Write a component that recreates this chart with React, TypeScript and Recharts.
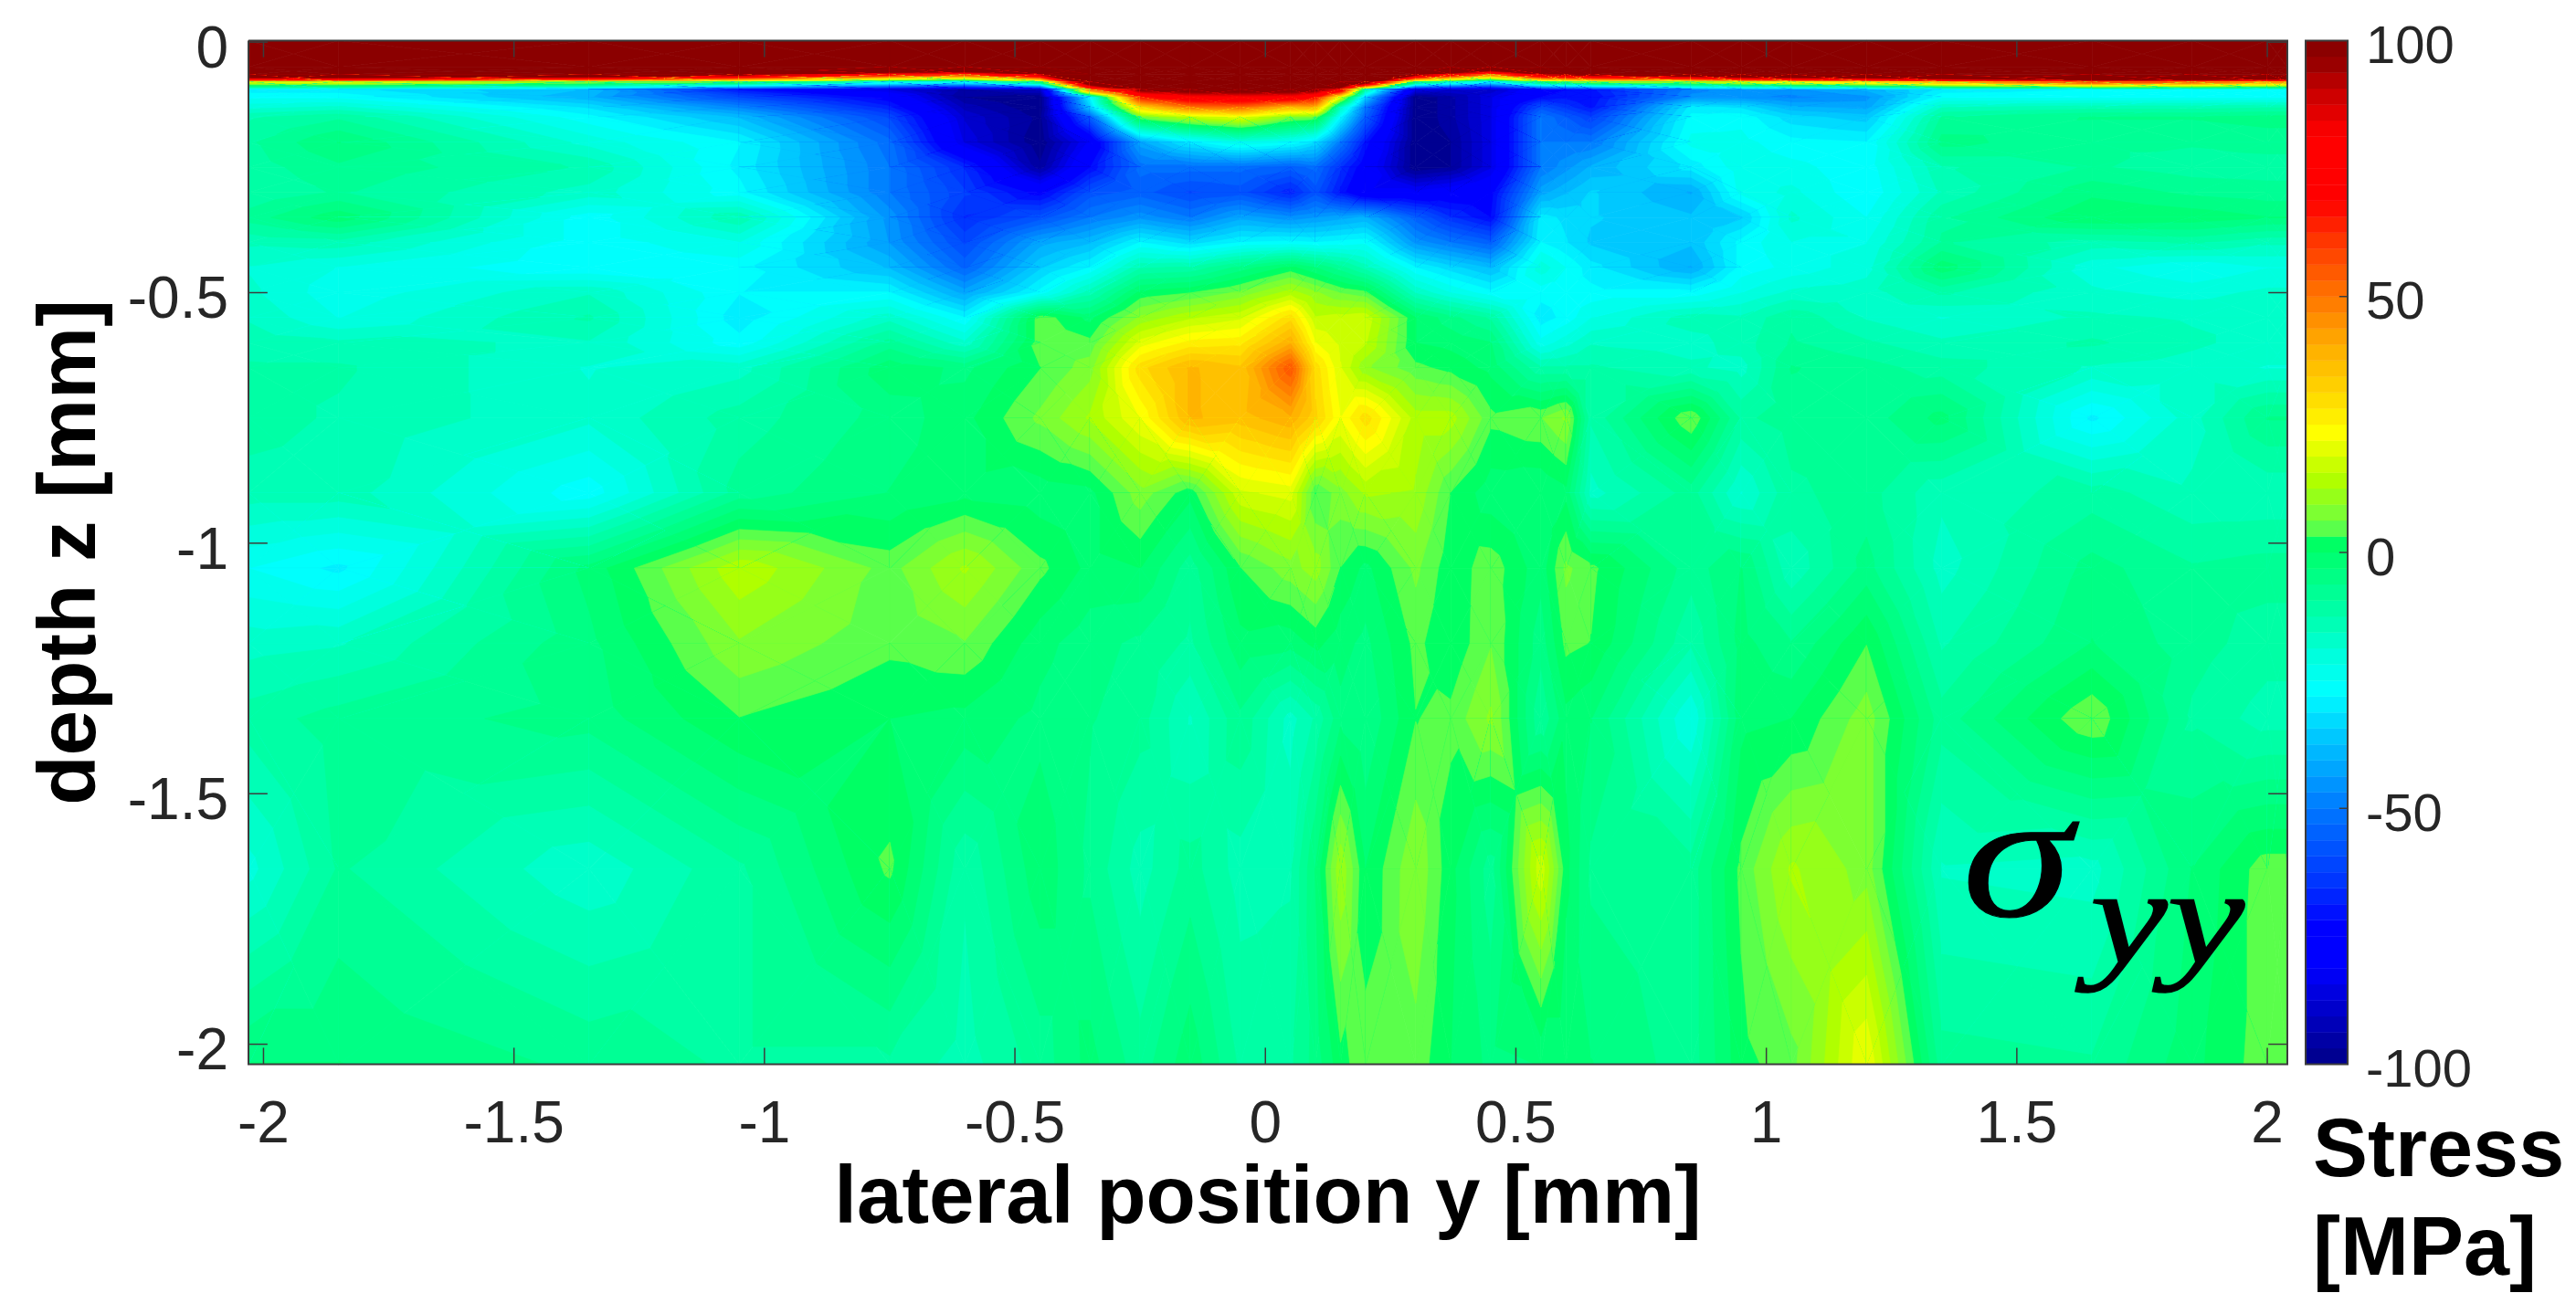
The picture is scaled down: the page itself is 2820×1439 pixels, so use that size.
import { ScatterChart, Scatter, XAxis, YAxis, ReferenceLine, ReferenceArea } from "recharts"

// lateral position y [mm], one value per column
const LATERAL = [-2.03, -1.85, -1.35, -1.05, -0.75, -0.6, -0.45, -0.35, -0.25, -0.15, -0.05, 0.05, 0.1, 0.15, 0.2, 0.3, 0.37, 0.45, 0.55, 0.6, 0.65, 0.85, 0.95, 1.05, 1.2, 1.35, 1.65, 1.85, 2.0, 2.04]
// depth z [mm], one value per row
const DEPTH = [0.003, -0.05, -0.065, -0.08, -0.095, -0.11, -0.13, -0.15, -0.2, -0.25, -0.3, -0.35, -0.4, -0.45, -0.5, -0.55, -0.6, -0.65, -0.75, -0.9, -1.05, -1.2, -1.35, -1.65, -2.04]

// stress [MPa]
const STRESS = [
  [300, 300, 300, 300, 300, 300, 300, 300, 300, 300, 300, 300, 300, 300, 300, 300, 300, 300, 300, 300, 300, 300, 300, 300, 300, 300, 300, 300, 300, 300],
  [300, 300, 250, 200, 150, 150, 160, 300, 300, 300, 300, 300, 300, 300, 300, 200, 165, 130, 160, 160, 165, 250, 250, 250, 250, 250, 300, 300, 300, 300],
  [140, 140, 130, 100, 70, 60, 90, 200, 250, 260, 260, 260, 260, 220, 200, 100, 75, 50, 90, 95, 100, 115, 130, 135, 140, 150, 170, 170, 160, 160],
  [20, 22, 10, 5, -20, -25, 0, 120, 180, 190, 190, 190, 180, 130, 110, 0, -14, -28, 0, 5, 10, 12, 20, 25, 30, 40, 60, 55, 45, 45],
  [-30, -30, -38, -70, -85, -95, -90, 50, 100, 105, 105, 105, 102, 80, -10, -85, -88, -90, -75, -72, -70, -48, -45, -45, -40, -30, -28, -28, -28, -28],
  [-26, -26, -40, -60, -75, -97, -100, -28, 65, 78, 80, 78, 68, 20, -35, -100, -95, -85, -72, -70, -72, -46, -46, -48, -45, -26, -26, -26, -26, -26],
  [-20, -18, -32, -48, -68, -92, -100, -35, 32, 50, 52, 38, 40, -15, -50, -100, -95, -85, -58, -64, -70, -30, -32, -40, -42, -16, -14, -14, -13, -13],
  [-13, -10, -27, -38, -60, -88, -98, -55, 6, 15, 20, 8, 6, -28, -55, -100, -95, -85, -50, -56, -62, -27, -26, -33, -36, -9, -6, -6, -5, -5],
  [-10, -3, -20, -28, -52, -85, -100, -80, -42, -30, -22, -26, -32, -50, -70, -100, -97, -85, -50, -50, -50, -24, -24, -27, -28, -5, -9, -9, -8, -8],
  [-11, -7, -13, -29, -50, -66, -96, -72, -52, -52, -52, -55, -52, -65, -76, -100, -97, -85, -50, -45, -40, -30, -23, -24, -27, -13, -9, -11, -11, -11],
  [-12, -9, -17, -27, -50, -62, -74, -58, -55, -60, -58, -68, -58, -70, -80, -80, -77, -74, -42, -38, -34, -41, -24, -21, -28, -15, -4, -7, -8, -8],
  [-8, -1, -27, -13, -45, -66, -58, -50, -45, -50, -42, -46, -44, -42, -40, -55, -65, -72, -30, -32, -34, -37, -35, -18, -25, -10, 0, -1, -3, -3],
  [-15, -14, -27, -22, -44, -60, -42, -38, -28, -33, -28, -27, -28, -27, -26, -45, -50, -55, -28, -31, -35, -37, -27, -22, -22, -9, -14, -12, -15, -15],
  [-19, -22, -28, -27, -38, -54, -35, -28, -13, -12, -5, 1, -3, -8, -14, -28, -33, -38, -20, -25, -30, -41, -27, -24, -20, -1, -21, -25, -22, -22],
  [-18, -24, -16, -28, -28, -42, -27, -14, 1, 3, 7, 14, 10, 6, 4, -16, -22, -27, -27, -27, -27, -27, -22, -18, -17, -12, -18, -20, -18, -18],
  [-16, -22, -12, -30, -17, -28, 5, -1, 10, 15, 18, 30, 16, 17, 18, 0, -5, -10, -30, -27, -22, -14, -15, -10, -16, -19, -15, -16, -16, -16],
  [-14, -15, -16, -27, -8, -18, 5, 4, 20, 26, 27, 40, 22, 18, 16, 0, -1, -3, -24, -20, -16, -17, -14, -9, -12, -15, -12, -15, -17, -17],
  [-12, -12, -19, -17, -1, -4, 3, 8, 30, 38, 35, 56, 30, 19, 10, 4, 2, -1, -12, -12, -12, -15, -17, -6, -8, -11, -16, -17, -19, -19],
  [-11, -13, -18, -11, -5, -1, 7, 13, 22, 38, 36, 40, 32, 22, 30, 14, 14, 4, 6, 10, -12, 6, -10, -8, -8, -2, -29, -17, -6, -6],
  [-14, -14, -27, -8, -3, -1, -2, -1, 8, 1, 18, 20, 3, 8, 13, 12, 3, -2, -3, -1, -17, -8, -19, -10, -8, -15, -11, -15, -15, -15],
  [-25, -29, -2, 15, 5, 13, 4, -1, 0, -8, 3, 8, 11, 3, -1, 7, 1, 5, -2, 7, 4, -8, -3, -15, -5, -17, -5, -9, -8, -8],
  [-17, -16, -4, 9, 4, 6, -2, -5, -7, -10, -1, -2, 1, -2, -4, 4, 0.5, 6, -5, 4, 3, -12, -2, -6, 3, -13, -3, -8, -11, -11],
  [-11, -8, -5, 3, 0, -1, -4, -6, -8, -16, -7, -17, -12, -4, -6, 3, 4, 10, -9, -1, -3, -22, -1, 0, 8, -8, 6, -10, -14, -14],
  [-20, -9, -18, -10, 3.8, -12, -1, -7, -14, -8, -14, -13, -3, 12, 0, 9, 1, -8, 18, 1, -7, -8, 4, 13, 8, -16, -17, -3, 5, 5],
  [-3, -3, -7, -10, -10, -14, -8, -2, -8, -1, -10, -10, -5, 2, 5, 5, 0, -4, -3, -3, -3, -8, 2, 5, 22, -8, -9, -1, 5, 5],
]

const LATERAL_TICKS = [-2, -1.5, -1, -0.5, 0, 0.5, 1, 1.5, 2]
const DEPTH_TICKS = [0, -0.5, -1, -1.5, -2]
const STRESS_TICKS = [100, 50, 0, -50, -100]

// lower edge of each contour band
const LEVELS = [
  -100, -96.875, -93.75, -90.625, -87.5, -84.375, -81.25, -78.125, -75, -71.875, -68.75, -65.625, -62.5, -59.375, -56.25, -53.125,
  -50, -46.875, -43.75, -40.625, -37.5, -34.375, -31.25, -28.125, -25, -21.875, -18.75, -15.625, -12.5, -9.375, -6.25, -3.125,
  0, 3.125, 6.25, 9.375, 12.5, 15.625, 18.75, 21.875, 25, 28.125, 31.25, 34.375, 37.5, 40.625, 43.75, 46.875,
  50, 53.125, 56.25, 59.375, 62.5, 65.625, 68.75, 71.875, 75, 78.125, 81.25, 84.375, 87.5, 90.625, 93.75, 96.875,
]
const LEVEL_STEP = 3.125

// colormap as seen on the colorbar: stress, r, g, b
const COLOR_STOPS = [
  [-100, 0, 0, 135], [-81, 0, 0, 255], [-73, 0, 0, 255], [-65, 0, 50, 255], [-52, 0, 110, 255], [-45, 0, 150, 255],
  [-36, 0, 200, 255], [-27, 0, 255, 255], [-20, 0, 255, 220], [-13, 0, 255, 175], [-3, 0, 255, 125], [1.56, 0, 255, 100],
  [4.69, 90, 255, 75], [7.8, 125, 255, 50], [14, 175, 255, 0], [23.4, 255, 255, 0], [30, 255, 220, 0], [41, 255, 170, 0],
  [48, 255, 128, 0], [60, 255, 60, 0], [68.8, 255, 0, 0], [81.5, 255, 0, 0], [90, 200, 0, 0], [97, 139, 0, 0], [100, 139, 0, 0],
]

const FONT = "'Liberation Sans', Arial, sans-serif"
const TICK_STYLE = { fontSize: 64, fill: "#262626", fontFamily: FONT }
const TITLE_STYLE = { fontSize: 89, fontWeight: 700, fill: "#000", fontFamily: FONT }
const FRAME = "#3c3c3c"
const X_MIN = -2.03
const X_MAX = 2.04
const Z_MIN = -2.04
const Z_MAX = 0.003

function levelColor(level: number) {
  const mid = level + LEVEL_STEP / 2
  for (let i = 1; i < COLOR_STOPS.length; i++) {
    const a = COLOR_STOPS[i - 1]
    const b = COLOR_STOPS[i]
    if (mid <= b[0]) {
      const t = (mid - a[0]) / (b[0] - a[0])
      const ch = (k: number) => Math.round(a[k] + (b[k] - a[k]) * t)
      return `rgb(${ch(1)},${ch(2)},${ch(3)})`
    }
  }
  return "rgb(139,0,0)"
}

type Corner = { x: number; y: number; v: number }

const nodes = DEPTH.flatMap((depth, row) => LATERAL.map((lateral, col) => ({ lateral, depth, row, col })))

// pixel position of every grid node, filled as Recharts hands them to the shape
const pixels: Record<string, [number, number]> = {}

function clipAbove(tri: Corner[], level: number) {
  const out: Corner[] = []
  tri.forEach((a, i) => {
    const b = tri[(i + 1) % tri.length]
    if (a.v >= level) out.push(a)
    if (a.v >= level !== b.v >= level) {
      const t = (level - a.v) / (b.v - a.v)
      out.push({ x: a.x + (b.x - a.x) * t, y: a.y + (b.y - a.y) * t, v: level })
    }
  })
  return out
}

function pathOf(poly: Corner[]) {
  return "M" + poly.map((p) => `${p.x.toFixed(1)} ${p.y.toFixed(1)}`).join("L") + "Z"
}

// one filled contour cell, drawn from this node and the three nodes before it
function ContourCell(props: any) {
  const { cx, cy, payload } = props
  const { row, col } = payload
  pixels[`${row}-${col}`] = [cx, cy]
  if (row === 0 || col === 0) return <g />
  const corner = (r: number, c: number): Corner => {
    const [x, y] = pixels[`${r}-${c}`]
    return { x, y, v: STRESS[r][c] }
  }
  const a = corner(row - 1, col - 1)
  const b = corner(row - 1, col)
  const c = corner(row, col)
  const d = corner(row, col - 1)
  const mid = { x: (a.x + c.x) / 2, y: (a.y + c.y) / 2, v: (a.v + b.v + c.v + d.v) / 4 }
  const paths: { d: string; fill: string }[] = []
  ;[[a, b], [b, c], [c, d], [d, a]].forEach(([p, q]) => {
    const tri = [p, q, mid]
    const lo = Math.min(p.v, q.v, mid.v)
    const hi = Math.max(p.v, q.v, mid.v)
    let base = LEVELS[0]
    LEVELS.forEach((l) => {
      if (l <= lo) base = l
    })
    paths.push({ d: pathOf(tri), fill: levelColor(base) })
    LEVELS.forEach((l) => {
      if (l > lo && l <= hi) paths.push({ d: pathOf(clipAbove(tri, l)), fill: levelColor(l) })
    })
  })
  return (
    <g>
      {paths.map((p, i) => (
        <path key={i} d={p.d} fill={p.fill} stroke={p.fill} strokeWidth={0.7} />
      ))}
    </g>
  )
}

const noMarker = () => <g />

// ticks and box go in as two-point scatter lines so they paint after the contours
function stroke(key: string, points: { lateral: number; depth: number }[], width = 1.5) {
  return <Scatter key={key} data={points} line={{ stroke: FRAME, strokeWidth: width }} shape={noMarker} isAnimationActive={false} />
}

function ContourPlot() {
  return (
    <ScatterChart width={2820} height={1439} margin={{ top: 44.5, right: 316, bottom: 213.5, left: 172 }}>
      <XAxis
        type="number"
        dataKey="lateral"
        domain={[X_MIN, X_MAX]}
        ticks={LATERAL_TICKS}
        interval={0}
        height={60}
        axisLine={false}
        tickLine={false}
        tickMargin={34}
        tick={TICK_STYLE}
        label={{ value: "lateral position y [mm]", position: "bottom", offset: 50, style: TITLE_STYLE }}
      />
      <YAxis
        type="number"
        dataKey="depth"
        domain={[Z_MIN, Z_MAX]}
        ticks={DEPTH_TICKS}
        interval={0}
        width={100}
        axisLine={false}
        tickLine={false}
        tickMargin={16}
        tick={{ ...TICK_STYLE, dy: 5 }}
        label={{ value: "depth z [mm]", angle: -90, position: "left", offset: 100, style: { ...TITLE_STYLE, textAnchor: "middle" } }}
      />
      <Scatter data={nodes} shape={ContourCell} isAnimationActive={false} />
      {LATERAL_TICKS.map((t) => stroke(`b${t}`, [{ lateral: t, depth: Z_MIN }, { lateral: t, depth: -2.007 }]))}
      {LATERAL_TICKS.map((t) => stroke(`t${t}`, [{ lateral: t, depth: Z_MAX }, { lateral: t, depth: -0.03 }]))}
      {DEPTH_TICKS.map((t) => stroke(`l${t}`, [{ lateral: X_MIN, depth: t }, { lateral: -1.992, depth: t }]))}
      {DEPTH_TICKS.map((t) => stroke(`r${t}`, [{ lateral: X_MAX, depth: t }, { lateral: 2.002, depth: t }]))}
      {stroke(
        "box",
        [
          { lateral: X_MIN, depth: Z_MAX },
          { lateral: X_MAX, depth: Z_MAX },
          { lateral: X_MAX, depth: Z_MIN },
          { lateral: X_MIN, depth: Z_MIN },
          { lateral: X_MIN, depth: Z_MAX },
        ],
        2,
      )}
    </ScatterChart>
  )
}

function ColorBar() {
  return (
    <ScatterChart width={280} height={1240} margin={{ top: 44.5, right: 10, bottom: 74.5, left: 4 }}>
      <XAxis type="number" dataKey="pos" domain={[0, 1]} allowDataOverflow hide />
      <YAxis
        type="number"
        dataKey="stress"
        orientation="right"
        domain={[-100, 100]}
        allowDataOverflow
        ticks={STRESS_TICKS}
        interval={0}
        width={220}
        axisLine={false}
        tickLine={false}
        tickMargin={14}
        tick={{ ...TICK_STYLE, fontSize: 58, dy: 4, textAnchor: "start" }}
      />
      <Scatter data={STRESS_TICKS.map((stress) => ({ pos: 0.5, stress }))} shape={noMarker} isAnimationActive={false} />
      {LEVELS.map((l) => (
        <ReferenceArea key={l} x1={0} x2={1} y1={l} y2={l + LEVEL_STEP} fill={levelColor(l)} fillOpacity={1} stroke={levelColor(l)} strokeWidth={0.5} ifOverflow="visible" />
      ))}
      {STRESS_TICKS.slice(1, 4).map((t) => (
        <ReferenceLine key={t} ifOverflow="visible" stroke={FRAME} strokeWidth={1.5} segment={[{ x: 1, y: t }, { x: 0.8, y: t }]} />
      ))}
      <ReferenceArea x1={0} x2={1} y1={-100} y2={100} fill="none" stroke={FRAME} strokeWidth={2} ifOverflow="visible" />
    </ScatterChart>
  )
}

const overlayText = { position: "absolute" as const, margin: 0, whiteSpace: "nowrap" as const }
const mathText = { ...overlayText, fontFamily: "'Liberation Serif', serif", fontStyle: "italic", color: "#000", transformOrigin: "left top" }

export default function App() {
  return (
    <div style={{ position: "absolute", left: 0, top: 0, width: 2820, height: 1439, background: "#fff", overflow: "hidden" }}>
      <div style={{ position: "absolute", left: 0, top: 0 }}>
        <ContourPlot />
      </div>
      <div style={{ position: "absolute", left: 2520, top: 0 }}>
        <ColorBar />
      </div>
      <div style={{ ...overlayText, left: 2532, top: 1203, fontFamily: FONT, fontWeight: 700, fontSize: 90, lineHeight: "108px", color: "#000" }}>
        Stress
        <br />
        [MPa]
      </div>
      <div style={{ ...mathText, left: 2148, top: 836, fontSize: 200, lineHeight: "200px", transform: "scaleX(1.22)", WebkitTextStroke: "1px #000" }}>σ</div>
      <div style={{ ...mathText, left: 2288, top: 929, fontSize: 150, lineHeight: "150px", transform: "scaleX(1.27)", WebkitTextStroke: "1.5px #000" }}>yy</div>
    </div>
  )
}
